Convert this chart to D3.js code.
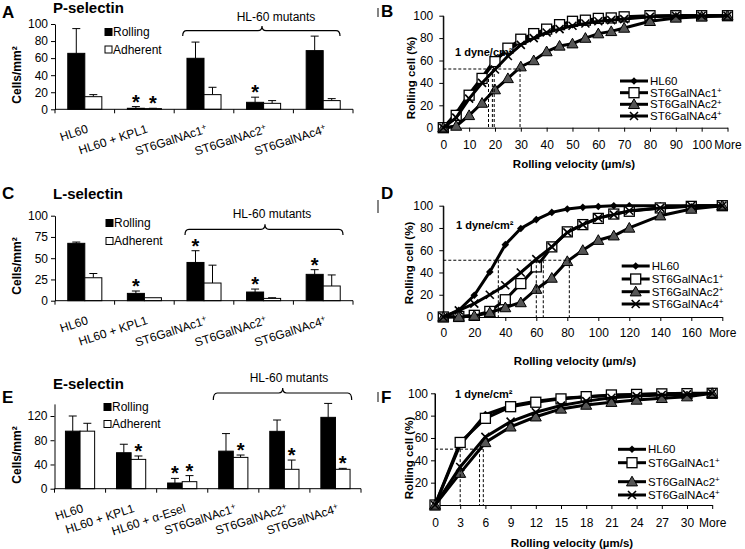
<!DOCTYPE html>
<html><head><meta charset="utf-8">
<script src="https://cdn.jsdelivr.net/npm/d3@7"></script>
<style>
body{margin:0;background:#fff}
text{font-family:"Liberation Sans",Arial,sans-serif;fill:#000}
</style>
</head><body>
<svg id="c" width="745" height="549"></svg>
<script>
// ---------------- DATA ----------------
const seriesNames = ["HL60", "ST6GalNAc1+", "ST6GalNAc2+", "ST6GalNAc4+"];

// Panel A: P-selectin
const catsA = ["HL60", "HL60 + KPL1", "ST6GalNAc1+", "ST6GalNAc2+", "ST6GalNAc4+"];
const rollingA = [65.6, 1.2, 59.8, 8.2, 68.8];
const rollingErrA = [29, 2, 19, 6, 17];
const adherentA = [14.8, 0.8, 17.2, 7, 10.2];
const adherentErrA = [2.4, 0.4, 8.6, 3.2, 2.3];
const rollingStarA = [0, 1, 0, 1, 0];
const adherentStarA = [0, 1, 0, 0, 0];
const yTicksA = [0, 20, 40, 60, 80, 100];

// Panel C: L-selectin
const catsC = ["HL60", "HL60 + KPL1", "ST6GalNAc1+", "ST6GalNAc2+", "ST6GalNAc4+"];
const rollingC = [67.5, 8.6, 45, 10.2, 31];
const rollingErrC = [1.5, 2.8, 13.8, 3.5, 5.5];
const adherentC = [27, 3.5, 20.8, 2.7, 17.3];
const adherentErrC = [5, 0, 21, 0.8, 13];
const rollingStarC = [0, 1, 1, 1, 1];
const adherentStarC = [0, 0, 0, 0, 0];
const yTicksC = [0, 25, 50, 75, 100];

// Panel E: E-selectin
const catsE = ["HL60", "HL60 + KPL1", "HL60 + α-Esel", "ST6GalNAc1+", "ST6GalNAc2+", "ST6GalNAc4+"];
const rollingE = [95, 59.4, 9.4, 62, 94.7, 117.8];
const rollingErrE = [25, 14, 7.6, 29, 18.7, 23];
const adherentE = [95, 48.4, 11.6, 51.7, 32, 32];
const adherentErrE = [13, 5.6, 10, 3.9, 15.3, 1.6];
const rollingStarE = [0, 0, 1, 0, 0, 0];
const adherentStarE = [0, 1, 1, 1, 1, 1];
const yTicksE = [0, 40, 80, 120];

// Panel B: rolling velocity distribution (P-selectin)
const xB = [0, 5, 10, 15, 20, 25, 30, 35, 40, 45, 50, 55, 60, 65, 70, 80, 90, 100, "More"];
const hl60B = [0, 13, 30, 45, 61, 69, 77, 82, 86, 90, 92, 94, 96, 97, 98, 99, 100, 100, 100];
const n1B   = [0, 11, 29, 44, 59, 71, 79, 84, 88, 92, 95, 96, 97.6, 98, 99, 100, 100, 100, 100];
const n2B   = [0, 1.5, 11, 22, 34, 44, 54.5, 60, 68, 73, 75, 80, 84, 86, 89, 95, 98, 99, 100];
const n4B   = [0, 9, 26, 40, 52, 64, 74, 80, 85, 88, 91, 93, 95, 96, 97, 99, 100, 100, 100];
const xTicksB = [0, 10, 20, 30, 40, 50, 60, 70, 80, 90, 100, "More"];
const medB = [17.5, 19, 19.7, 29.7];
const medLevelB = 52.4;

// Panel D (L-selectin)
const xD = [0, 10, 20, 30, 40, 50, 60, 70, 80, 90, 100, 110, 120, 140, 160, "More"];
const hl60D = [0, 6, 19.5, 40.5, 65, 79.5, 87.5, 94, 97, 98.5, 99.3, 100, 100, 100, 100, 100];
const n1D   = [0, 0.5, 1.5, 5, 15.5, 30, 45, 63, 76.5, 83, 88.6, 92.5, 95, 98, 99.4, 100];
const n2D   = [0, 0, 1, 4, 8.5, 13, 25, 35, 50, 60, 69, 73, 80, 91, 97, 100];
const n4D   = [0, 6, 12, 20, 28.5, 40, 52, 63, 76, 83, 89, 92, 95.5, 98, 100, 100];
const xTicksD = [0, 20, 40, 60, 80, 100, 120, 140, 160, "More"];
const medD = [35.5, 60, 64.5, 81.3];
const medLevelD = 51;

// Panel F (E-selectin)
const xF = [0, 3, 6, 9, 12, 15, 18, 21, 24, 27, 30, "More"];
const hl60F = [0, 54, 81, 89, 93, 95.5, 97, 98, 99, 99.5, 100, 100];
const n1F   = [0, 56, 77.6, 88, 92, 95, 97, 98.5, 99, 99.5, 99.7, 100];
const n2F   = [0, 28.5, 56, 70, 79, 86, 89.5, 92, 94, 95.5, 97, 100];
const n4F   = [0, 34, 61, 74.6, 83, 89, 93, 96, 97.5, 98.5, 99, 100];
const xTicksF = [0, 3, 6, 9, 12, 15, 18, 21, 24, 27, 30, "More"];
const medF = [3, 5.3, 5.75];
const medLevelF = 50;

const yTicksLine = [0, 20, 40, 60, 80, 100];
const yTicksLineF = [20, 40, 60, 80, 100];

// ---------------- DRAWING ----------------
const svg = d3.select("#c");
svg.append("rect").attr("width", 745).attr("height", 549).attr("fill", "#fff");

function addLabel(sel, label) {
  if (label.endsWith("+")) {
    sel.append("tspan").text(label.slice(0, -1));
    sel.append("tspan").attr("dy", "-0.45em").attr("font-size", "0.7em").text("+");
  } else sel.text(label);
}

function styleAxis(ax, fs) {
  ax.select(".domain").attr("stroke", "#000").attr("stroke-width", 1);
  ax.selectAll(".tick line").attr("stroke", "#000");
  ax.selectAll(".tick text").attr("font-size", fs).attr("font-family", '"Liberation Sans",Arial,sans-serif').attr("fill", "#000");
}

function bracket(g, x1, x2, xm, yLine, yEnd, yTip) {
  const r = 4;
  const p = `M${x1},${yEnd} Q${x1},${yLine} ${x1 + r},${yLine} L${xm - r},${yLine} Q${xm},${yLine} ${xm},${yTip} Q${xm},${yLine} ${xm + r},${yLine} L${x2 - r},${yLine} Q${x2},${yLine} ${x2},${yEnd}`;
  g.append("path").attr("d", p).attr("fill", "none").attr("stroke", "#000").attr("stroke-width", 1.2);
}

function barPanel(o) {
  const g = svg.append("g");
  const x = d3.scaleBand().domain(o.cats).range([o.x0, o.x1]);
  const xi = d3.scaleBand().domain(["Rolling", "Adherent"]).range([0, x.bandwidth()]).paddingOuter(0.75);
  const y = d3.scaleLinear().domain(o.yDomain).range([o.yBottom, o.yTop]);

  const series = [
    {key: "Rolling", vals: o.rolling, err: o.rollingErr, stars: o.rollingStar, fill: "#000"},
    {key: "Adherent", vals: o.adherent, err: o.adherentErr, stars: o.adherentStar, fill: "#fff"}
  ];
  series.forEach(s => {
    o.cats.forEach((c, i) => {
      const bx = x(c) + xi(s.key), bw = xi.bandwidth();
      const cx = bx + bw / 2;
      const top = y(s.vals[i] + s.err[i]);
      if (s.err[i] > 0) {
        g.append("line").attr("x1", cx).attr("x2", cx).attr("y1", y(s.vals[i])).attr("y2", top).attr("stroke", "#000");
        g.append("line").attr("x1", cx - 4).attr("x2", cx + 4).attr("y1", top).attr("y2", top).attr("stroke", "#000");
      }
      g.append("rect").attr("x", bx).attr("width", bw).attr("y", y(s.vals[i])).attr("height", y(0) - y(s.vals[i]))
        .attr("fill", s.fill).attr("stroke", "#000").attr("stroke-width", 1);
      if (s.stars[i]) {
        g.append("text").attr("x", cx).attr("y", top + 2).attr("text-anchor", "middle")
          .attr("font-size", 20).attr("font-weight", "bold").text("*");
      }
    });
  });

  const ya = g.append("g").attr("transform", `translate(${o.x0},0)`)
    .call(d3.axisLeft(y).tickValues(o.yTicks).tickSize(4).tickSizeOuter(0).tickPadding(3));
  styleAxis(ya, 12);
  g.append("line").attr("x1", o.x0).attr("x2", o.x1).attr("y1", y(0)).attr("y2", y(0)).attr("stroke", "#000");
  o.cats.map(c => x(c)).concat([o.x1]).forEach(bx => {
    g.append("line").attr("x1", bx).attr("x2", bx).attr("y1", y(0)).attr("y2", y(0) + 4).attr("stroke", "#000");
  });
  o.cats.forEach(c => {
    const cx = x(c) + x.bandwidth() / 2;
    const t = g.append("text").attr("transform", `translate(${cx + 4},${y(0) + 23}) rotate(-18)`)
      .attr("text-anchor", "end").attr("font-size", 12);
    addLabel(t, c);
  });

  // y title
  g.append("text").attr("transform", `translate(${o.yTitleX},${o.yTitleY}) rotate(-90)`)
    .attr("text-anchor", "middle").attr("font-size", 12).attr("font-weight", "bold").text("Cells/mm²");
  // legend
  const lg = g.append("g");
  [["Rolling", "#000"], ["Adherent", "#fff"]].forEach((d, i) => {
    const ly = o.legY[i];
    lg.append("rect").attr("x", o.legX).attr("y", ly - 7.5).attr("width", 7).attr("height", 7)
      .attr("fill", d[1]).attr("stroke", "#000");
    lg.append("text").attr("x", o.legX + 8).attr("y", ly).attr("font-size", 12).text(d[0]);
  });
  // title & letter
  g.append("text").attr("x", 2).attr("y", o.letterY).attr("font-size", 17).attr("font-weight", "bold").text(o.letter);
  g.append("text").attr("x", 53).attr("y", o.titleY).attr("font-size", 15).attr("font-weight", "bold").text(o.title);
  // bracket
  bracket(g, o.br[0], o.br[1], o.br[2], o.br[3], o.br[4], o.br[5]);
  g.append("text").attr("x", o.brText[0]).attr("y", o.brText[1]).attr("text-anchor", "middle").attr("font-size", 12).text("HL-60 mutants");
  // small artifact line
  g.append("line").attr("x1", 378).attr("x2", 378).attr("y1", o.art[0]).attr("y2", o.art[1]).attr("stroke", "#333").attr("stroke-width", 1.2);
}

function marker(g, type, cx, cy) {
  if (type === 0) {
    g.append("path").attr("d", "M0,-3.8L3.8,0L0,3.8L-3.8,0Z").attr("transform", `translate(${cx},${cy})`).attr("fill", "#000");
  } else if (type === 1) {
    g.append("rect").attr("x", cx - 5).attr("y", cy - 5).attr("width", 10).attr("height", 10)
      .attr("fill", "#fff").attr("stroke", "#000").attr("stroke-width", 1.3);
  } else if (type === 2) {
    g.append("path").attr("d", "M0,-5.5L5.5,4.2L-5.5,4.2Z").attr("transform", `translate(${cx},${cy})`)
      .attr("fill", "#555").attr("stroke", "#000").attr("stroke-width", 1);
  } else {
    g.append("path").attr("d", "M-4,-4L4,4M-4,4L4,-4").attr("transform", `translate(${cx},${cy})`)
      .attr("stroke", "#000").attr("stroke-width", 1.6).attr("fill", "none");
  }
}

function linePanel(o) {
  const g = svg.append("g");
  const pos = v => v === "More" ? o.more : v;
  const x = d3.scaleLinear().domain([0, o.more]).range([o.x0, o.x1]);
  const y = d3.scaleLinear().domain([0, 100]).range([o.y0, o.y1]);

  const ya = g.append("g").attr("transform", `translate(${o.x0},0)`)
    .call(d3.axisLeft(y).tickValues(o.yTicks).tickSize(4).tickSizeOuter(0).tickPadding(o.yPad));
  styleAxis(ya, 12);
  g.append("line").attr("x1", o.x0).attr("x2", o.x0).attr("y1", y(0)).attr("y2", y(100)).attr("stroke", "#000");
  const xa = g.append("g").attr("transform", `translate(0,${o.y0})`)
    .call(d3.axisBottom(x).tickValues(o.xTicks.map(pos)).tickFormat((d, i) => o.xTicks[i]).tickSize(4).tickSizeOuter(0).tickPadding(o.xPad));
  styleAxis(xa, 12);

  const line = d3.line().x((d, i) => x(pos(o.xs[i]))).y(d => y(d));
  o.series.forEach((vals, k) => {
    g.append("path").attr("d", line(vals)).attr("fill", "none").attr("stroke", "#000").attr("stroke-width", 3);
    vals.forEach((v, i) => marker(g, k, x(pos(o.xs[i])), y(v)));
  });

  // dashed medians
  const dash = "3,2";
  g.append("line").attr("x1", x(0)).attr("x2", x(d3.max(o.med))).attr("y1", y(o.medLevel)).attr("y2", y(o.medLevel))
    .attr("stroke", "#000").attr("stroke-width", 1).attr("stroke-dasharray", dash);
  o.med.forEach(m => {
    g.append("line").attr("x1", x(m)).attr("x2", x(m)).attr("y1", y(o.medLevel)).attr("y2", y(0))
      .attr("stroke", "#000").attr("stroke-width", 1).attr("stroke-dasharray", dash);
  });

  // legend
  seriesNames.forEach((n, k) => {
    const ly = o.legY[k];
    g.append("line").attr("x1", o.legX0).attr("x2", o.legX0 + 28).attr("y1", ly).attr("y2", ly).attr("stroke", "#000").attr("stroke-width", 3);
    marker(g, k, o.legX0 + 14, ly);
    const t = g.append("text").attr("x", o.legX0 + 30).attr("y", ly + 4).attr("font-size", 11.5);
    addLabel(t, n);
  });

  g.append("text").attr("x", o.dyneX).attr("y", o.dyneY).attr("font-size", 11).attr("font-weight", "bold").text("1 dyne/cm²");
  g.append("text").attr("x", o.xTitle[0]).attr("y", o.xTitle[1]).attr("text-anchor", "middle")
    .attr("font-size", 11.5).attr("font-weight", "bold").text("Rolling velocity (µm/s)");
  g.append("text").attr("transform", `translate(${o.yTitle[0]},${o.yTitle[1]}) rotate(-90)`).attr("text-anchor", "middle")
    .attr("font-size", 11.5).attr("font-weight", "bold").text("Rolling cell (%)");
  g.append("text").attr("x", 381).attr("y", o.letterY).attr("font-size", 17).attr("font-weight", "bold").text(o.letter);
}

// ---- bar panels ----
barPanel({cats: catsA, rolling: rollingA, rollingErr: rollingErrA, adherent: adherentA, adherentErr: adherentErrA,
  rollingStar: rollingStarA, adherentStar: adherentStarA, yTicks: yTicksA, yDomain: [0, 100],
  x0: 55, x1: 353, yBottom: 109.3, yTop: 24, yTitleX: 21, yTitleY: 75, legX: 105, legY: [36, 53.5],
  letter: "A", letterY: 18, title: "P-selectin", titleY: 12.5, br: [182.7, 340, 262, 30.7, 36, 26], brText: [276, 20.5], art: [8, 17]});

barPanel({cats: catsC, rolling: rollingC, rollingErr: rollingErrC, adherent: adherentC, adherentErr: adherentErrC,
  rollingStar: rollingStarC, adherentStar: adherentStarC, yTicks: yTicksC, yDomain: [0, 100],
  x0: 55, x1: 353, yBottom: 300.7, yTop: 215.7, yTitleX: 21, yTitleY: 266, legX: 106, legY: [227, 245],
  letter: "C", letterY: 199, title: "L-selectin", titleY: 199, br: [185, 343, 265, 229.3, 235, 224.3], brText: [272, 218], art: [200, 213]});

barPanel({cats: catsE, rolling: rollingE, rollingErr: rollingErrE, adherent: adherentE, adherentErr: adherentErrE,
  rollingStar: rollingStarE, adherentStar: adherentStarE, yTicks: yTicksE, yDomain: [0, 140],
  x0: 54.5, x1: 361, yBottom: 488.7, yTop: 403.9, yTitleX: 21, yTitleY: 455, legX: 104, legY: [411, 428],
  letter: "E", letterY: 402.5, title: "E-selectin", titleY: 389, br: [213.3, 351.7, 282.7, 393, 400, 388], brText: [289, 382], art: [392, 402]});

// ---- line panels ----
linePanel({xs: xB, series: [hl60B, n1B, n2B, n4B], xTicks: xTicksB, more: 110, yTicks: yTicksLine,
  x0: 443.3, x1: 727.5, y0: 127.7, y1: 15.7, yPad: 6, xPad: 9, med: medB, medLevel: medLevelB,
  legX0: 620, legY: [81, 92.7, 104.3, 116], dyneX: 455, dyneY: 56, xTitle: [574, 168], yTitle: [415, 78], letter: "B", letterY: 16.5});

linePanel({xs: xD, series: [hl60D, n1D, n2D, n4D], xTicks: xTicksD, more: 180, yTicks: yTicksLine,
  x0: 443.3, x1: 722.3, y0: 317, y1: 205.7, yPad: 6, xPad: 7, med: medD, medLevel: medLevelD,
  legX0: 621.7, legY: [266, 279, 291.7, 304], dyneX: 456, dyneY: 229, xTitle: [575, 365], yTitle: [413, 263], letter: "D", letterY: 199});

linePanel({xs: xF, series: [hl60F, n1F, n2F, n4F], xTicks: xTicksF, more: 33, yTicks: yTicksLineF,
  x0: 435, x1: 712.2, y0: 505, y1: 393.3, yPad: 3, xPad: 9, med: medF, medLevel: medLevelF,
  legX0: 618, legY: [449.3, 462.7, 481.7, 495], dyneX: 455, dyneY: 398, xTitle: [572, 547], yTitle: [413, 458], letter: "F", letterY: 403});
</script>
</body></html>
